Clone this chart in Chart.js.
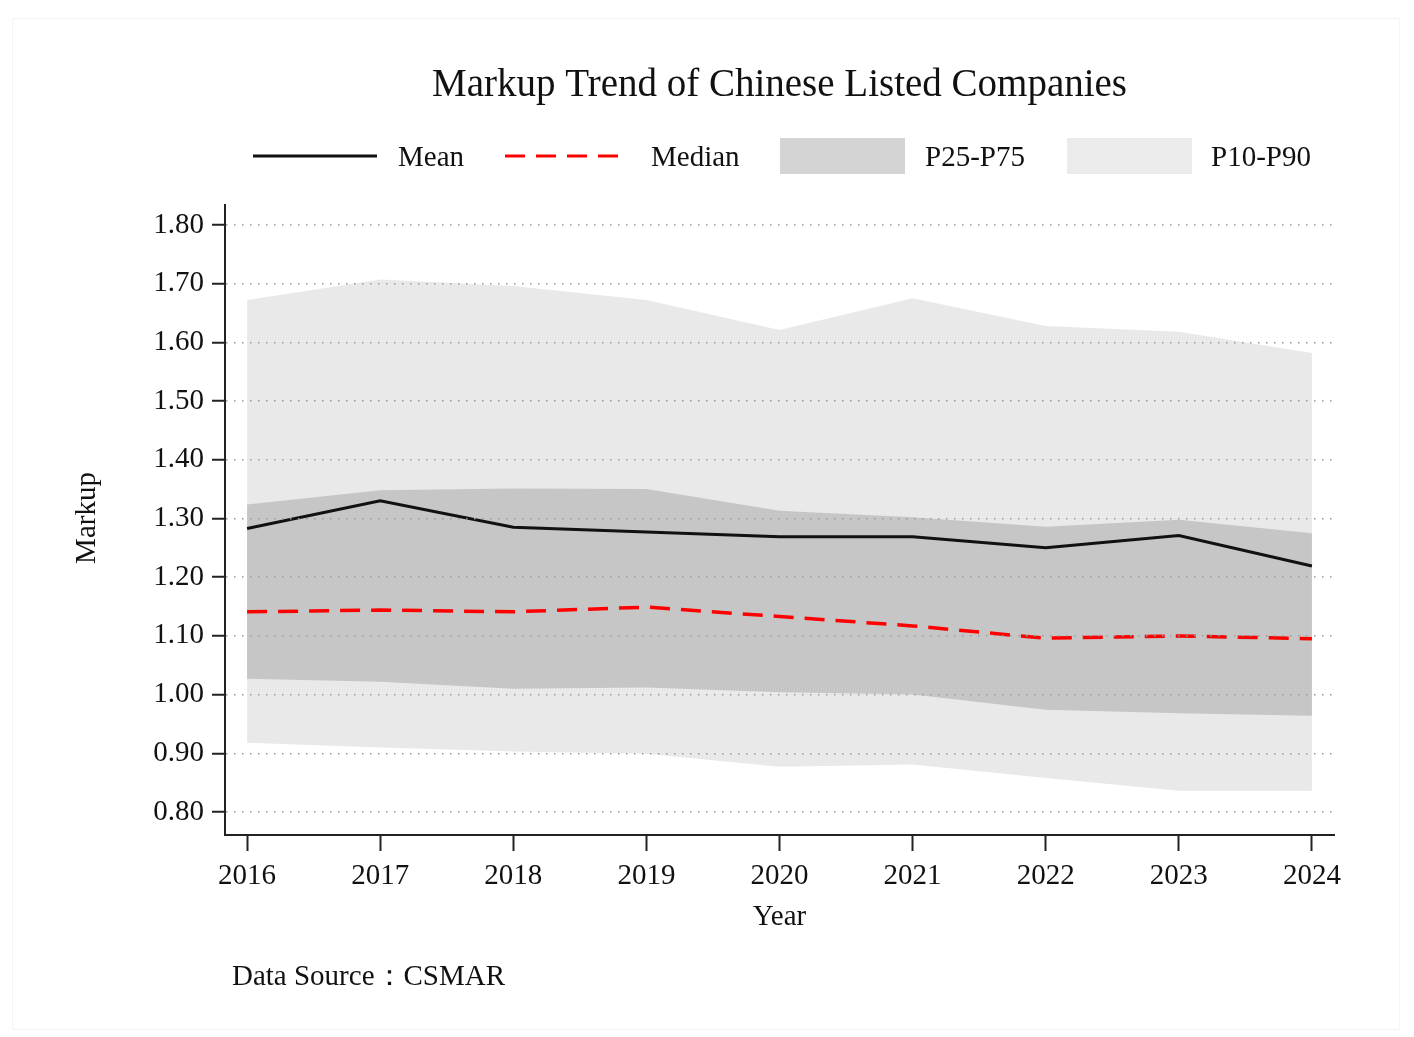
<!DOCTYPE html>
<html>
<head>
<meta charset="utf-8">
<title>Markup Trend of Chinese Listed Companies</title>
<script src="https://cdn.jsdelivr.net/npm/chart.js@4.4.0/dist/chart.umd.min.js"></script>
<style>
  html, body { margin: 0; padding: 0; background: #fff; }
  #wrap { position: relative; width: 1414px; height: 1037px; }
  #frame { position: absolute; left: 12px; top: 18px; width: 1388px; height: 1012px; border: 1px solid #f4f4f4; box-sizing: border-box; pointer-events: none; }
  canvas { position: absolute; left: 0; top: 0; }
</style>
</head>
<body>
<div id="wrap">
  <canvas id="markupChart" width="1414" height="1037"></canvas>
  <div id="frame"></div>
</div>
<script>
// yearly markup distribution
const years = [2016, 2017, 2018, 2019, 2020, 2021, 2022, 2023, 2024];
const meanVals   = [1.283, 1.330, 1.285, 1.277, 1.269, 1.269, 1.250, 1.271, 1.219];
const medianVals = [1.141, 1.144, 1.141, 1.149, 1.133, 1.117, 1.096, 1.100, 1.095];
const p25 = [1.027, 1.022, 1.010, 1.012, 1.004, 1.000, 0.974, 0.968, 0.964];
const p75 = [1.324, 1.348, 1.351, 1.350, 1.313, 1.302, 1.286, 1.298, 1.275];
const p10 = [0.918, 0.910, 0.903, 0.899, 0.877, 0.881, 0.858, 0.836, 0.836];
const p90 = [1.672, 1.707, 1.696, 1.672, 1.621, 1.675, 1.628, 1.618, 1.582];
const yTicks = [0.8, 0.9, 1.0, 1.1, 1.2, 1.3, 1.4, 1.5, 1.6, 1.7, 1.8];

const SERIF = "'Liberation Serif', 'Times New Roman', 'DejaVu Serif', serif";
const BAND_DARK = '#c6c6c6';
const BAND_LIGHT = '#e9e9e9';

function pts(vals) {
    return vals.map((v, i) => ({ x: years[i], y: v }));
}

// title, legend, axis titles and the source note
const decorations = {
    id: 'decorations',
    afterDraw(chart) {
        const ctx = chart.ctx;
        const area = chart.chartArea;
        const cx = (area.left + area.right) / 2;
        ctx.save();
        ctx.fillStyle = '#111';
        ctx.textBaseline = 'middle';

        ctx.font = '39px ' + SERIF;
        ctx.textAlign = 'center';
        ctx.fillText('Markup Trend of Chinese Listed Companies', cx, 86);

        // legend row
        const ly = 156;
        const ty = 158;
        ctx.font = '29px ' + SERIF;
        ctx.textAlign = 'left';

        ctx.strokeStyle = '#111';
        ctx.lineWidth = 3;
        ctx.beginPath();
        ctx.moveTo(253, ly); ctx.lineTo(377, ly);
        ctx.stroke();
        ctx.fillText('Mean', 398, ty);

        ctx.strokeStyle = '#ff0000';
        ctx.setLineDash([20, 11]);
        ctx.beginPath();
        ctx.moveTo(505, ly); ctx.lineTo(625, ly);
        ctx.stroke();
        ctx.setLineDash([]);
        ctx.fillText('Median', 651, ty);

        ctx.fillStyle = '#d4d4d4';
        ctx.fillRect(780, 138, 125, 36);
        ctx.fillStyle = '#ebebeb';
        ctx.fillRect(1067, 138, 125, 36);
        ctx.fillStyle = '#111';
        ctx.fillText('P25-P75', 925, ty);
        ctx.fillText('P10-P90', 1211, ty);

        // axis titles
        ctx.textAlign = 'center';
        ctx.fillText('Year', cx, 917);
        ctx.save();
        ctx.translate(87, 518);
        ctx.rotate(-Math.PI / 2);
        ctx.fillText('Markup', 0, 0);
        ctx.restore();

        ctx.textAlign = 'left';
        ctx.fillText('Data Source\uFF1ACSMAR', 232, 977);
        ctx.restore();
    }
};

const ctx = document.getElementById('markupChart').getContext('2d');
const chart = new Chart(ctx, {
    type: 'line',
    data: {
        datasets: [
            { label: 'Mean', data: pts(meanVals), borderColor: '#111', borderWidth: 3, fill: false },
            { label: 'Median', data: pts(medianVals), borderColor: '#ff0000', borderWidth: 3.5, borderDash: [20, 11], fill: false },
            { label: 'P25-P75', data: pts(p75), borderWidth: 0, borderColor: 'rgba(0,0,0,0)', backgroundColor: BAND_DARK, fill: '+1' },
            { label: 'P25', data: pts(p25), borderWidth: 0, borderColor: 'rgba(0,0,0,0)', fill: false },
            { label: 'P10-P90', data: pts(p90), borderWidth: 0, borderColor: 'rgba(0,0,0,0)', backgroundColor: BAND_LIGHT, fill: '+1' },
            { label: 'P10', data: pts(p10), borderWidth: 0, borderColor: 'rgba(0,0,0,0)', fill: false }
        ]
    },
    options: {
        responsive: false,
        animation: false,
        layout: { padding: { left: 0, top: 205, right: 80, bottom: 0 } },
        elements: { point: { radius: 0, hoverRadius: 0 }, line: { tension: 0 } },
        plugins: {
            legend: { display: false },
            title: { display: false },
            tooltip: { enabled: false }
        },
        scales: {
            x: {
                type: 'linear',
                min: 2015.834,
                max: 2024.166,
                afterBuildTicks: scale => { scale.ticks = years.map(v => ({ value: v })); },
                afterFit: scale => { scale.height = 1037 - 835; },
                grid: { drawOnChartArea: false, drawTicks: true, tickLength: 16, tickColor: '#222', tickWidth: 2 },
                border: { color: '#222', width: 2 },
                ticks: {
                    color: '#111',
                    padding: 8,
                    maxRotation: 0,
                    font: { family: SERIF, size: 29 },
                    callback: v => String(v)
                }
            },
            y: {
                min: 0.7608,
                max: 1.834,
                afterBuildTicks: scale => { scale.ticks = yTicks.map(v => ({ value: v })); },
                afterFit: scale => { scale.width = 225; },
                // dotted grid sits above the shaded bands
                grid: { color: '#9a9a9a', lineWidth: 1.5, tickLength: 13, tickColor: '#222', tickWidth: 2, tickBorderDash: [], z: 1 },
                border: { color: '#222', width: 2, dash: [1.5, 6.5], z: 1 },
                ticks: {
                    color: '#111',
                    padding: 8,
                    font: { family: SERIF, size: 29 },
                    callback: v => v.toFixed(2)
                }
            }
        }
    },
    plugins: [decorations]
});
</script>
</body>
</html>
